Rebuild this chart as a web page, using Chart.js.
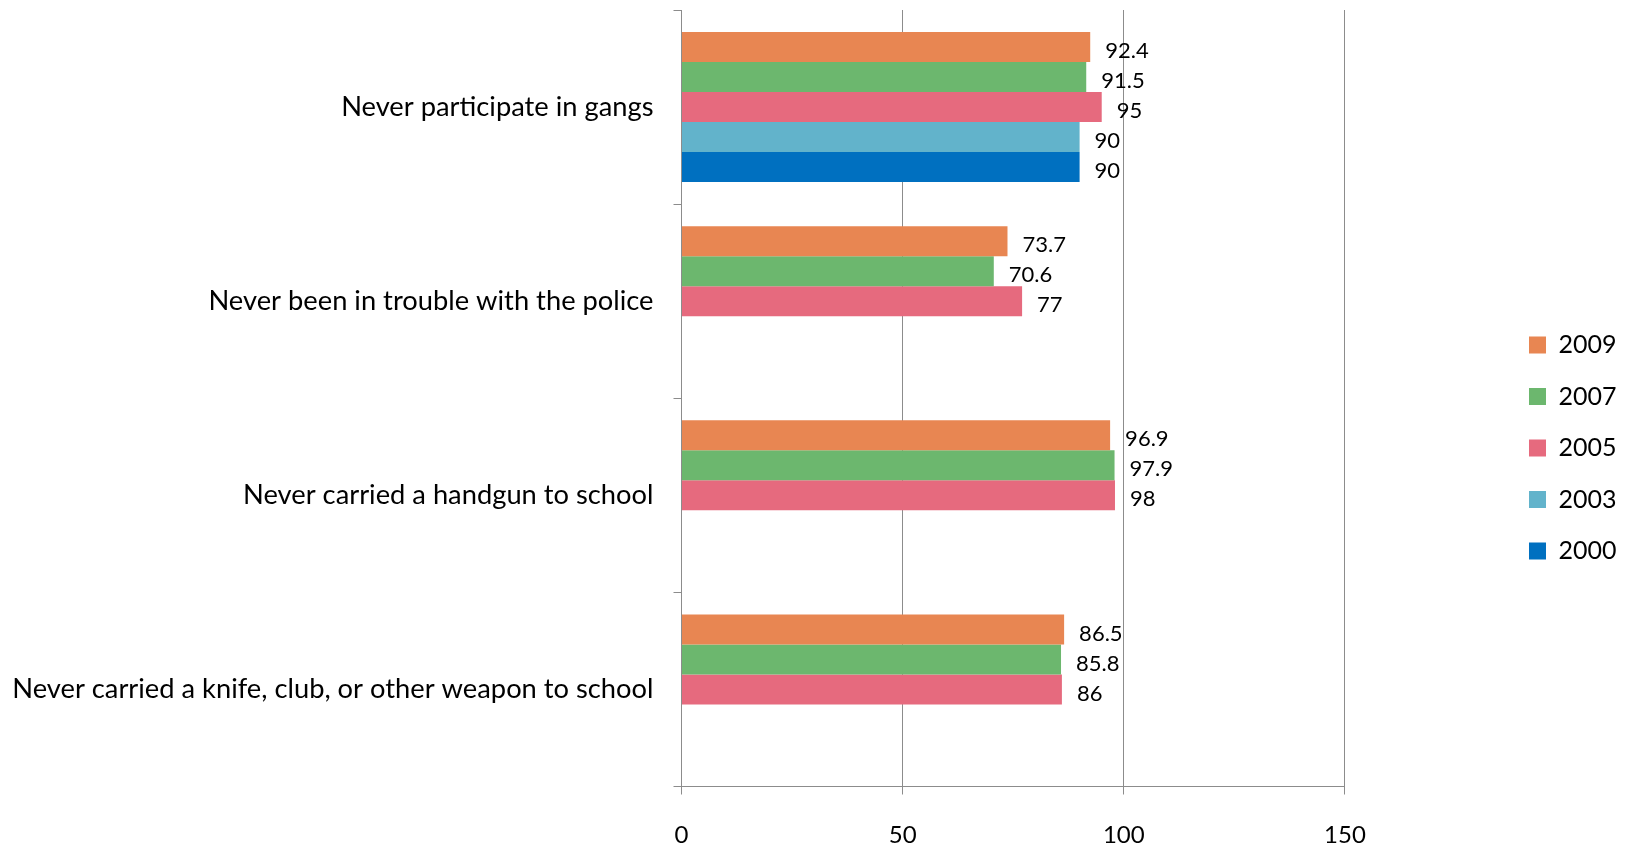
<!DOCTYPE html>
<html lang="en">
	<head>
		<meta charset="UTF-8" />
		<title>Never participate</title>
		<style>
			html, body { margin: 0; padding: 0; background: #fff; }
			#wrap { width: 1629px; height: 849px; position: relative; }
		</style>
	</head>
	<body>
		<div id="wrap"><canvas id="myChart"></canvas></div>

		<script src="https://cdn.jsdelivr.net/npm/chart.js@4.4.1/dist/chart.umd.min.js"></script>
		<script>
			// data
			var categories = [
				"Never participate in gangs",
				"Never been in trouble with the police",
				"Never carried a handgun to school",
				"Never carried a knife, club, or other weapon to school",
			];
			var years = ["2009", "2007", "2005", "2003", "2000"];
			var v2009 = [92.4, 73.7, 96.9, 86.5];
			var v2007 = [91.5, 70.6, 97.9, 85.8];
			var v2005 = [95, 77, 98, 86];
			var v2003 = [90, null, null, null];
			var v2000 = [90, null, null, null];
			var xTicks = [0, 50, 100, 150];

			var colors = ["#E88652", "#6CB76E", "#E66A7E", "#62B3CB", "#0070C0"];
			var series = [v2009, v2007, v2005, v2003, v2000];
			var gridGray = "#8c8c8c";

			Chart.defaults.font.family = "Lato, 'Open Sans', sans-serif";
			Chart.defaults.color = "#000";

			// values next to the bar ends
			var valueLabels = {
				id: "valueLabels",
				afterDatasetsDraw: function (chart) {
					var ctx = chart.ctx;
					ctx.save();
					ctx.font = "22px Lato, 'Open Sans', sans-serif";
					ctx.fillStyle = "#000";
					ctx.textAlign = "left";
					ctx.textBaseline = "middle";
					chart.data.datasets.forEach(function (ds, i) {
						chart.getDatasetMeta(i).data.forEach(function (bar, j) {
							var v = ds.data[j];
							if (v === null || v === undefined) return;
							ctx.fillText(String(v), bar.x + 15, bar.y + 4);
						});
					});
					ctx.restore();
				},
			};

			var datasets = years.map(function (y, i) {
				return {
					label: y,
					data: series[i],
					backgroundColor: colors[i],
					borderWidth: 0,
					barPercentage: 1,
					categoryPercentage: 0.773,
				};
			});

			var chart = new Chart(document.getElementById("myChart"), {
				type: "bar",
				data: { labels: categories, datasets: datasets },
				options: {
					indexAxis: "y",
					responsive: true,
					maintainAspectRatio: false,
					animation: false,
					layout: { padding: { top: 10, right: 2.5, bottom: 0, left: 0 } },
					plugins: {
						tooltip: { enabled: false },
						legend: {
							position: "right",
							title: {
								display: true,
								text: " ",
								font: { size: 1 },
								padding: { top: 18, bottom: 18 },
							},
							labels: {
								boxWidth: 17,
								boxHeight: 17,
								padding: 26.5,
								font: { size: 25 },
								color: "#000",
							},
						},
					},
					scales: {
						x: {
							min: 0,
							max: 150,
							afterBuildTicks: function (s) {
								s.ticks = xTicks.map(function (v) { return { value: v }; });
							},
							grid: { color: gridGray, tickLength: 8, tickColor: gridGray },
							border: { color: gridGray },
							ticks: { font: { size: 24 }, padding: 26, color: "#000" },
							afterFit: function (s) { s.height = 62.5; },
						},
						y: {
							grid: {
								drawOnChartArea: false,
								tickLength: 8,
								color: gridGray,
								offset: true,
							},
							border: { color: gridGray },
							ticks: { font: { size: 27.3 }, padding: 20, color: "#000" },
							afterFit: function (s) {
								s.width = 681.5;
								s.paddingTop = 0;
								s.paddingBottom = 0;
							},
						},
						gap: {
							type: "linear",
							position: "right",
							display: true,
							grid: { display: false },
							border: { display: false },
							ticks: { display: false },
							afterFit: function (s) { s.width = 157.5; },
						},
					},
				},
				plugins: [valueLabels],
			});
		</script>
	</body>
</html>
